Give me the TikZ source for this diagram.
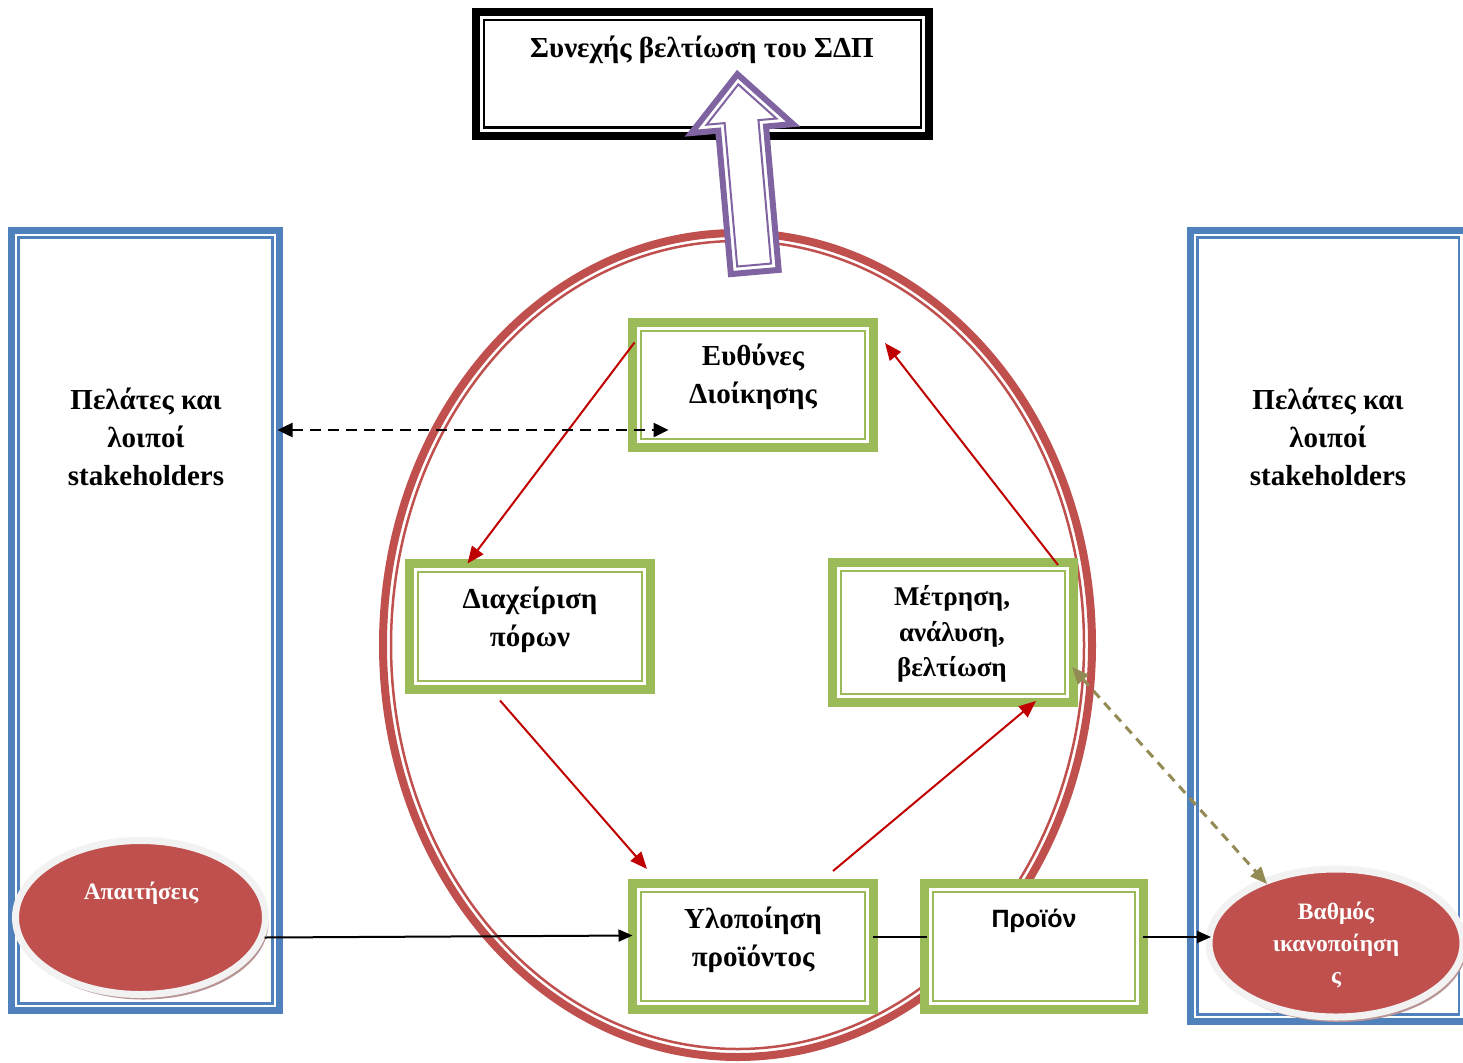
\documentclass[tikz,border=0pt]{standalone}
\usepackage{fontspec}
\setmainfont{Liberation Serif}
\newfontfamily\arialfont{Liberation Sans}
\usetikzlibrary{arrows.meta,shapes.geometric}
\definecolor{ored}{HTML}{C0504D}
\definecolor{oblue}{HTML}{4F81BD}
\definecolor{ogreen}{HTML}{9BBB59}
\definecolor{opurple}{HTML}{8064A2}
\definecolor{darkred}{HTML}{C00000}
\definecolor{olivec}{HTML}{948A54}
\definecolor{rimgrey}{HTML}{F2F2F2}
\definecolor{shadowc}{HTML}{B89494}
\begin{document}
\begin{tikzpicture}[x=1pt,y=-1pt,
  gbox/.style={draw=ogreen, line width=9pt, fill=white, rectangle, inner sep=0pt, outer sep=0pt},
  gin/.style={draw=ogreen, line width=2.5pt},
  bbox/.style={draw=oblue, line width=7pt, fill=white, rectangle, inner sep=0pt, outer sep=0pt},
  bin/.style={draw=oblue, line width=2.5pt},
  lab/.style={font=\fontsize{29}{38}\selectfont\bfseries, align=center, inner sep=0pt},
  slab/.style={font=\fontsize{23.5}{32}\selectfont\bfseries, align=center, inner sep=0pt, text=white},
  redarr/.style={draw=darkred, line width=2pt, -{Triangle[length=17pt,width=14pt]}},
  blkarr/.style={draw=black, line width=2pt, -{Triangle[length=14pt,width=12pt]}},
  dasharr/.style={draw=black, line width=2.5pt, dash pattern=on 11pt off 7pt, {Triangle[length=15pt,width=14pt]}-{Triangle[length=15pt,width=14pt]}},
  olarr/.style={draw=olivec, line width=3pt, dash pattern=on 9pt off 7pt, {Triangle[length=17pt,width=14pt]}-{Triangle[length=17pt,width=14pt]}},
  redell/.style={ellipse, draw=rimgrey, line width=7pt, fill=ored, inner sep=0pt, outer sep=0pt}
]
\useasboundingbox (0,0) rectangle (1463,1062);

% side blue boxes
\node[bbox, minimum width=268pt, minimum height=780pt] (lb) at (145.5,620.5) {};
\draw[bin] ([shift={(7,7)}]lb.north west) rectangle ([shift={(-7,-7)}]lb.south east);
\node[bbox, minimum width=275.5pt, minimum height=791pt] (rb) at (1328.25,626) {};
\draw[bin] ([shift={(7,7)}]rb.north west) rectangle ([shift={(-7,-7)}]rb.south east);

% top box
\node[draw=black, line width=8pt, fill=white, rectangle, inner sep=0pt, outer sep=0pt,
      minimum width=453pt, minimum height=123.5pt] (top) at (702.5,73.75) {};
\draw[black, line width=2pt] ([shift={(8,8)}]top.north west) rectangle ([shift={(-8,-8)}]top.south east);

% big cycle ellipse
\node[ellipse, draw=ored, line width=8pt, inner sep=0pt, outer sep=0pt,
      minimum width=709pt, minimum height=824pt] (cyc) at (737.5,645) {};
\draw[ored, line width=2.5pt] (cyc.center) ellipse [x radius=346.5pt, y radius=404pt];

% green boxes
\node[gbox, minimum width=241pt, minimum height=125pt] (b1) at (753,385) {};
\node[gbox, minimum width=241pt, minimum height=126pt] (b2) at (530,626.5) {};
\node[gbox, minimum width=241pt, minimum height=140pt] (b3) at (953,632.5) {};
\node[gbox, minimum width=241pt, minimum height=126pt] (b4) at (753,946.5) {};
\node[gbox, minimum width=219pt, minimum height=126pt] (b5) at (1034,946.5) {};
\foreach \b in {b1,b2,b3,b4,b5}{
  \draw[gin] ([shift={(8.5,8.5)}]\b.north west) rectangle ([shift={(-8.5,-8.5)}]\b.south east);
}

% red cycle arrows
\draw[redarr] ([shift={(2,20)}]b1.north west) -- ([shift={(58,0)}]b2.north west);
\draw[redarr] ([shift={(-30,11)}]b2.south) -- ([shift={(14.5,-14.5)}]b4.north west);
\draw[redarr] ([shift={(80,-12.5)}]b4.north) -- ([shift={(83,-1.5)}]b3.south);
\draw[redarr] ([shift={(-15.5,2.5)}]b3.north east) -- ([shift={(11.5,20.5)}]b1.north east);

% small ellipses with shadows
\fill[shadowc] (143.5,922.5) ellipse [x radius=125pt, y radius=77pt];
\node[redell, minimum width=250pt, minimum height=154pt] (e1) at (140.5,917.5) {};
\fill[shadowc] (1339,948) ellipse [x radius=127pt, y radius=74pt];
\node[redell, minimum width=254pt, minimum height=148pt] (e2) at (1336,943) {};

% dashed arrows
\draw[dasharr] ([shift={(-2,-190.5)}]lb.east) -- ([shift={(36,45)}]b1.west);
\draw[olarr] ([shift={(-1.5,34.5)}]b3.east) -- ([shift={(-69,-59)}]e2.center);

% black arrows
\draw[blkarr] ([shift={(-1,20)}]e1.east) -- ([shift={(0,-11)}]b4.west);
\draw[black, line width=2pt] ([shift={(-1,-9.5)}]b4.east) -- ([shift={(2,-9.5)}]b5.west);
\draw[blkarr] ([shift={(-1,-9.5)}]b5.east) -- ([shift={(2,-6)}]e2.west);

% purple block arrow
\begin{scope}[shift={(755,275)}, x={(0.996pt,0.0875pt)}, y={(-0.0875pt,0.996pt)}]
  \draw[opurple, line width=6pt, fill=white, line join=miter]
    (-24,3) -- (24,3) -- (24,147) -- (51.1,147) -- (0,201.6) -- (-51.1,147) -- (-24,147) -- cycle;
  \draw[opurple, line width=2pt, line join=miter]
    (-17,10) -- (17,10) -- (17,154) -- (35,154) -- (0,191.4) -- (-35,154) -- (-17,154) -- cycle;
\end{scope}

% texts
\node[lab] (tt) at (702,50) {Συνεχής βελτίωση του ΣΔΠ};
\node[lab] (lt) at (146,437) {Πελάτες και\\λοιποί\\stakeholders};
\node[lab] (rt) at (1328,437) {Πελάτες και\\λοιποί\\stakeholders};
\node[lab] (t1) at (753,377) {Ευθύνες\\Διοίκησης};
\node[lab] (t2) at (530,620) {Διαχείριση\\πόρων};
\node[lab, font=\fontsize{27}{35.5}\selectfont\bfseries] (t3) at (952,634) {Μέτρηση,\\ανάλυση,\\βελτίωση};
\node[lab] (t4) at (753,940) {Υλοποίηση\\προϊόντος};
\node[inner sep=0pt, font=\arialfont\fontsize{25}{30}\selectfont\bfseries] (t5) at (1034,921) {Προϊόν};
\node[slab] (te1) at (141,893) {Απαιτήσεις};
\node[slab] (te2) at (1336,945) {Βαθμός\\ικανοποίηση\\ς};
\end{tikzpicture}
\end{document}
